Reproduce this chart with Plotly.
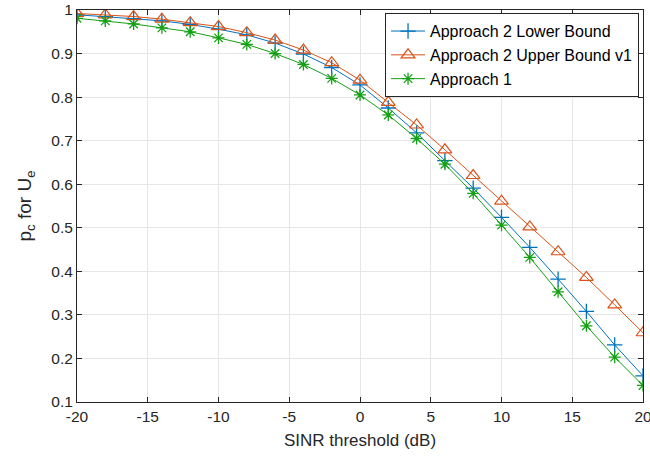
import plotly.graph_objects as go

sinr_db = [-20, -18, -16, -14, -12, -10, -8, -6, -4, -2, 0, 2, 4, 6, 8, 10, 12, 14, 16, 18, 20]
lower_bound = [0.989, 0.985, 0.980, 0.975, 0.967, 0.956, 0.943, 0.924, 0.899, 0.868, 0.828,
               0.775, 0.718, 0.654, 0.591, 0.524, 0.455, 0.382, 0.308, 0.231, 0.160]
upper_bound = [0.992, 0.989, 0.985, 0.979, 0.971, 0.962, 0.948, 0.931, 0.908, 0.879, 0.839,
               0.788, 0.736, 0.679, 0.620, 0.561, 0.502, 0.445, 0.386, 0.323, 0.259]
approach1 = [0.981, 0.975, 0.968, 0.959, 0.950, 0.936, 0.921, 0.900, 0.875, 0.843, 0.805,
             0.759, 0.705, 0.646, 0.579, 0.506, 0.432, 0.353, 0.275, 0.203, 0.138]
x_ticks = [-20, -15, -10, -5, 0, 5, 10, 15, 20]
x_tick_labels = ["-20", "-15", "-10", "-5", "0", "5", "10", "15", "20"]
y_ticks = [0.1, 0.2, 0.3, 0.4, 0.5, 0.6, 0.7, 0.8, 0.9, 1]
y_tick_labels = ["0.1", "0.2", "0.3", "0.4", "0.5", "0.6", "0.7", "0.8", "0.9", "1"]

fig = go.Figure()
fig.add_trace(go.Scatter(
    x=sinr_db, y=lower_bound, mode="lines+markers", name="Approach 2 Lower Bound",
    line=dict(color="#0072BD", width=1),
    marker=dict(symbol="cross-thin-open", size=11, line=dict(color="#0072BD", width=1.3)),
))
fig.add_trace(go.Scatter(
    x=sinr_db, y=upper_bound, mode="lines+markers", name="Approach 2 Upper Bound v1",
    line=dict(color="#D95319", width=1),
    marker=dict(symbol="triangle-up-open", size=12, color="#D95319", line=dict(color="#D95319", width=1.2)),
))
fig.add_trace(go.Scatter(
    x=sinr_db, y=approach1, mode="lines+markers", name="Approach 1",
    line=dict(color="#14A014", width=1),
    marker=dict(symbol="asterisk-open", size=10, line=dict(color="#14A014", width=1.3)),
))

font_family = "Liberation Sans, Arial"
axis_common = dict(
    showline=True, linecolor="#262626", linewidth=1, mirror="ticks",
    ticks="inside", ticklen=5, tickcolor="#262626",
    showgrid=True, gridcolor="#E6E6E6", gridwidth=1,
    zeroline=False, automargin=False, ticklabeloverflow="allow",
    tickfont=dict(family=font_family, size=15.5, color="#262626"),
)

fig.update_layout(
    width=650, height=463,
    margin=dict(l=77, r=7, t=10, b=61),
    paper_bgcolor="white", plot_bgcolor="white",
    showlegend=True,
    legend=dict(
        x=0.993, y=0.992, xanchor="right", yanchor="top",
        bgcolor="white", bordercolor="#262626", borderwidth=1,
        font=dict(family=font_family, size=16, color="black"),
        tracegroupgap=0, itemwidth=34,
    ),
    xaxis=dict(range=[-20, 20], tickvals=x_ticks, ticktext=x_tick_labels,
               title=dict(text="SINR threshold (dB)", standoff=10,
                          font=dict(family=font_family, size=17, color="#262626")),
               **axis_common),
    yaxis=dict(range=[0.1, 1], tickvals=y_ticks, ticktext=y_tick_labels,
               title=dict(text="p<sub>c</sub> for U<sub>e</sub>", standoff=14,
                          font=dict(family=font_family, size=19, color="#262626")),
               **axis_common),
)

fig.write_html("out.html")
